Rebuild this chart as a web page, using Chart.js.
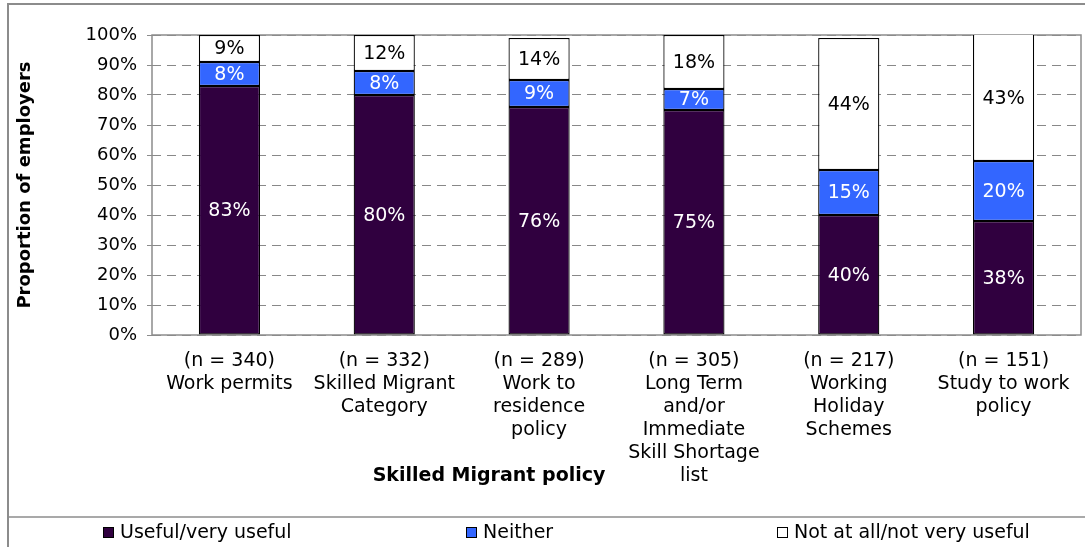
<!DOCTYPE html>
<html>
<head>
<meta charset="utf-8">
<script src="https://cdn.jsdelivr.net/npm/chart.js@4"></script>
<style>
  html, body { margin: 0; padding: 0; background: #fff; }
  #wrap { position: relative; width: 1085px; height: 547px; }
</style>
</head>
<body>
<div id="wrap"><canvas id="policy-chart"></canvas></div>
<script>
const categories = [
    ['(n = 340)', 'Work permits'],
    ['(n = 332)', 'Skilled Migrant', 'Category'],
    ['(n = 289)', 'Work to', 'residence', 'policy'],
    ['(n = 305)', 'Long Term', 'and/or', 'Immediate', 'Skill Shortage', 'list'],
    ['(n = 217)', 'Working', 'Holiday', 'Schemes'],
    ['(n = 151)', 'Study to work', 'policy']
];
const useful = [83, 80, 76, 75, 40, 38];
const neither = [8, 8, 9, 7, 15, 20];
const notUseful = [9, 12, 14, 18, 44, 43];
const yTicks = [0, 10, 20, 30, 40, 50, 60, 70, 80, 90, 100];

const FONT = "'DejaVu Sans', Verdana, sans-serif";
const colors = { useful: '#30003f', neither: '#3366ff', notUseful: '#ffffff' };

// value labels inside each segment
const segmentLabels = {
    id: 'segmentLabels',
    afterDatasetsDraw(chart) {
        const ctx = chart.ctx;
        ctx.save();
        ctx.font = '19px ' + FONT;
        ctx.textAlign = 'center';
        ctx.textBaseline = 'middle';
        chart.data.datasets.forEach((ds, i) => {
            const meta = chart.getDatasetMeta(i);
            ctx.fillStyle = ds.labelColor;
            meta.data.forEach((bar, j) => {
                const top = Math.max(bar.y, chart.chartArea.top);
                ctx.fillText(ds.data[j] + '%', bar.x, (top + bar.base) / 2 + 1);
            });
        });
        ctx.restore();
    }
};

// plot frame under the bars
const plotFrame = {
    id: 'plotFrame',
    beforeDatasetsDraw(chart) {
        const { left, top, right, bottom } = chart.chartArea;
        const ctx = chart.ctx;
        ctx.save();
        ctx.strokeStyle = '#8c8c8c';
        ctx.lineWidth = 1.5;
        ctx.strokeRect(left, top, right - left, bottom - top);
        ctx.restore();
    }
};

// outer border, x title and legend row
const decorations = {
    id: 'decorations',
    afterDraw(chart) {
        const ctx = chart.ctx;
        ctx.save();
        ctx.strokeStyle = '#8c8c8c';
        ctx.lineWidth = 2;
        ctx.beginPath();
        ctx.moveTo(8, 547);
        ctx.lineTo(8, 4);
        ctx.lineTo(1085, 4);
        ctx.stroke();
        ctx.lineWidth = 1.5;
        ctx.beginPath();
        ctx.moveTo(8, 517);
        ctx.lineTo(1085, 517);
        ctx.stroke();

        ctx.fillStyle = '#000';
        ctx.font = 'bold 19px ' + FONT;
        ctx.textAlign = 'center';
        ctx.textBaseline = 'middle';
        ctx.fillText('Skilled Migrant policy', 489, 476);

        const legendX = [103, 466, 777];
        ctx.font = '19px ' + FONT;
        ctx.textAlign = 'left';
        chart.data.datasets.forEach((ds, i) => {
            const x = legendX[i];
            ctx.fillStyle = ds.backgroundColor;
            ctx.fillRect(x, 527, 10, 10);
            ctx.strokeStyle = '#000';
            ctx.lineWidth = 1;
            ctx.strokeRect(x + 0.5, 527.5, 10, 10);
            ctx.fillStyle = '#000';
            ctx.fillText(ds.label, x + 17, 533);
        });
        ctx.restore();
    }
};

const dataset = (label, data, color, labelColor) => ({
    label: label,
    data: data,
    backgroundColor: color,
    borderColor: '#000',
    borderWidth: 1.25,
    borderSkipped: false,
    labelColor: labelColor,
    barPercentage: 0.395,
    categoryPercentage: 1
});

new Chart(document.getElementById('policy-chart'), {
    type: 'bar',
    data: {
        labels: categories,
        datasets: [
            dataset('Useful/very useful', useful, colors.useful, '#fff'),
            dataset('Neither', neither, colors.neither, '#fff'),
            dataset('Not at all/not very useful', notUseful, colors.notUseful, '#000')
        ]
    },
    options: {
        responsive: true,
        maintainAspectRatio: false,
        animation: false,
        layout: { padding: { left: 0, right: 4, top: 35, bottom: 30 } },
        plugins: {
            legend: { display: false },
            tooltip: { enabled: false }
        },
        scales: {
            x: {
                stacked: true,
                grid: { display: false, drawTicks: false },
                border: { display: false },
                ticks: {
                    color: '#000',
                    padding: 15,
                    maxRotation: 0,
                    autoSkip: false,
                    font: { family: FONT, size: 19, lineHeight: 23 / 19 }
                },
                afterFit: (scale) => { scale.height = 182; }
            },
            y: {
                stacked: true,
                min: 0,
                max: 100,
                afterBuildTicks: (scale) => { scale.ticks = yTicks.map(v => ({ value: v })); },
                grid: { color: '#888', tickColor: '#8c8c8c', tickLength: 5, lineWidth: 1 },
                border: { display: false, dash: [9, 6] },
                ticks: {
                    color: '#000',
                    padding: 10,
                    font: { family: FONT, size: 18 },
                    callback: (v) => v + '%'
                },
                title: {
                    display: true,
                    text: 'Proportion of employers',
                    color: '#000',
                    padding: { top: 15, bottom: 0 },
                    font: { family: FONT, size: 18, weight: 'bold' }
                },
                afterFit: (scale) => { scale.width = 152; }
            }
        }
    },
    plugins: [plotFrame, segmentLabels, decorations]
});
</script>
</body>
</html>
